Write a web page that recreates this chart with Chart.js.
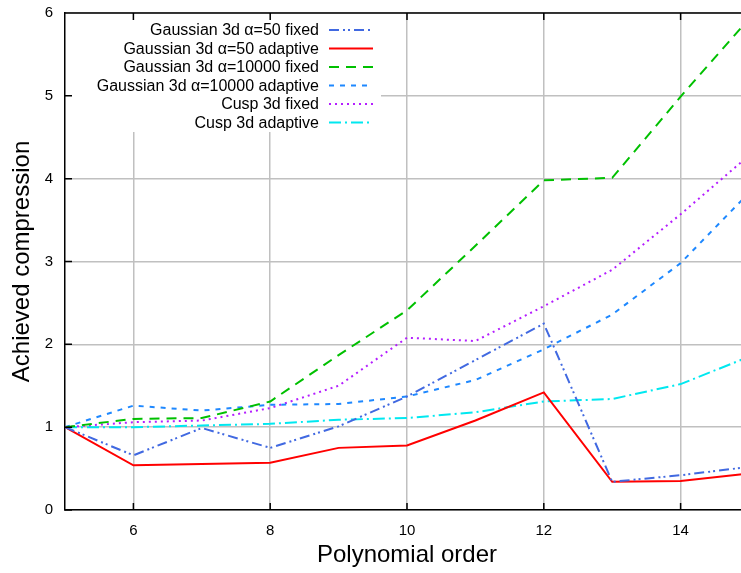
<!DOCTYPE html>
<html>
<head>
<meta charset="utf-8">
<script src="https://cdn.jsdelivr.net/npm/chart.js@4/dist/chart.umd.min.js"></script>
<style>
  html, body { margin: 0; padding: 0; overflow: hidden; background: #fff; }
  #wrap { width: 760px; height: 573px; }
</style>
</head>
<body>
<div id="wrap"><canvas id="chart"></canvas></div>
<script>
// polynomial order on the x axis
const orders = [5, 6, 7, 8, 9, 10, 11, 12, 13, 14, 15];

// achieved compression
const gauss50Fixed = [1.00, 0.66, 0.99, 0.75, 1.01, 1.37, 1.81, 2.25, 0.34, 0.42, 0.52];
const gauss50Adaptive = [1.00, 0.54, 0.555, 0.57, 0.75, 0.78, 1.08, 1.42, 0.34, 0.35, 0.44];
const gauss10000Fixed = [1.00, 1.10, 1.11, 1.31, 1.87, 2.41, 3.19, 3.98, 4.01, 4.99, 5.93];
const gauss10000Adaptive = [1.00, 1.26, 1.20, 1.27, 1.28, 1.37, 1.57, 1.94, 2.36, 2.98, 3.83];
const cuspFixed = [1.00, 1.06, 1.08, 1.23, 1.50, 2.08, 2.04, 2.46, 2.90, 3.57, 4.28];
const cuspAdaptive = [1.00, 1.00, 1.02, 1.04, 1.09, 1.11, 1.18, 1.31, 1.34, 1.52, 1.85];

const seriesLabels = [
    'Gaussian 3d \u03b1=50 fixed',
    'Gaussian 3d \u03b1=50 adaptive',
    'Gaussian 3d \u03b1=10000 fixed',
    'Gaussian 3d \u03b1=10000 adaptive',
    'Cusp 3d fixed',
    'Cusp 3d adaptive'
];

const xTicks = [6, 8, 10, 12, 14];
const yTicks = [0, 1, 2, 3, 4, 5, 6];

const FONT = "'Liberation Sans', Arial, sans-serif";

function toPoints(values) {
    return values.map((v, i) => ({ x: orders[i], y: v }));
}

function makeSet(label, values, color, dash) {
    return {
        label: label,
        data: toPoints(values),
        borderColor: color,
        backgroundColor: color,
        borderDash: dash,
        borderWidth: 2,
        pointRadius: 0,
        tension: 0,
        fill: false
    };
}

// key box: white patch over the grid, then text + samples on top
const keyBox = { left: 66, top: 14, right: 381, bottom: 132 };

const keyPlugin = {
    id: 'key',
    beforeDatasetsDraw(chart) {
        const ctx = chart.ctx;
        ctx.save();
        ctx.fillStyle = '#fff';
        ctx.fillRect(keyBox.left, keyBox.top, keyBox.right - keyBox.left, keyBox.bottom - keyBox.top);
        ctx.restore();
    },
    afterDatasetsDraw(chart) {
        const ctx = chart.ctx;
        const textRight = 319;
        const lineLeft = 329, lineRight = 373;
        const top = 30, step = 18.5;
        ctx.save();
        ctx.font = '16px ' + FONT;
        ctx.textAlign = 'right';
        ctx.textBaseline = 'middle';
        chart.data.datasets.forEach((ds, i) => {
            const y = top + i * step;
            ctx.fillStyle = '#000';
            ctx.fillText(ds.label, textRight, y + 1);
            ctx.strokeStyle = ds.borderColor;
            ctx.lineWidth = ds.borderWidth;
            ctx.setLineDash(ds.borderDash);
            ctx.beginPath();
            ctx.moveTo(lineLeft, y);
            ctx.lineTo(lineRight, y);
            ctx.stroke();
        });
        ctx.restore();
    }
};

// gnuplot style: black frame on top + inward tick marks
const framePlugin = {
    id: 'frame',
    afterDatasetsDraw(chart) {
        const ctx = chart.ctx;
        const area = chart.chartArea;
        const xs = chart.scales.x;
        const ys = chart.scales.y;
        ctx.save();
        ctx.strokeStyle = '#000';
        ctx.lineWidth = 1.5;
        ctx.beginPath();
        ctx.moveTo(area.left, area.top);
        ctx.lineTo(area.right, area.top);
        xTicks.forEach(v => {
            const px = xs.getPixelForValue(v);
            ctx.moveTo(px, area.bottom);
            ctx.lineTo(px, area.bottom - 7);
            ctx.moveTo(px, area.top);
            ctx.lineTo(px, area.top + 7);
        });
        yTicks.forEach(v => {
            const py = ys.getPixelForValue(v);
            ctx.moveTo(area.left, py);
            ctx.lineTo(area.left + 7, py);
        });
        ctx.stroke();
        ctx.restore();
    }
};

const datasets = [
    makeSet(seriesLabels[0], gauss50Fixed, '#4169e1', [10, 4, 2, 3, 2, 4]),
    makeSet(seriesLabels[1], gauss50Adaptive, '#ff0000', []),
    makeSet(seriesLabels[2], gauss10000Fixed, '#00c000', [10, 7]),
    makeSet(seriesLabels[3], gauss10000Adaptive, '#1e88ff', [5, 6]),
    makeSet(seriesLabels[4], cuspFixed, '#b41eff', [2, 4]),
    makeSet(seriesLabels[5], cuspAdaptive, '#00e8f0', [12, 4, 2, 4])
];

new Chart(document.getElementById('chart'), {
    type: 'line',
    data: { datasets: datasets },
    options: {
        responsive: true,
        maintainAspectRatio: false,
        animation: false,
        layout: { padding: { top: 13, right: 11, left: 0, bottom: 0 } },
        plugins: {
            legend: { display: false },
            tooltip: { enabled: false }
        },
        scales: {
            x: {
                type: 'linear',
                min: 5,
                max: 15,
                afterFit(scale) {
                    scale.height = 63;
                    scale.paddingLeft = 0;
                    scale.paddingRight = 0;
                },
                afterBuildTicks(scale) { scale.ticks = xTicks.map(v => ({ value: v })); },
                ticks: {
                    color: '#000',
                    padding: 12,
                    font: { family: FONT, size: 15 },
                    maxRotation: 0
                },
                grid: { color: '#c0c0c0', lineWidth: 1.5, drawTicks: false },
                border: { color: '#000', width: 1.5 },
                title: {
                    display: true,
                    text: 'Polynomial order',
                    color: '#000',
                    font: { family: FONT, size: 24 },
                    padding: { top: 0, bottom: 3 }
                }
            },
            y: {
                min: 0,
                max: 6,
                afterFit(scale) {
                    scale.width = 65;
                    scale.paddingTop = 0;
                    scale.paddingBottom = 0;
                },
                afterBuildTicks(scale) { scale.ticks = yTicks.map(v => ({ value: v })); },
                ticks: {
                    color: '#000',
                    padding: 12,
                    font: { family: FONT, size: 15 }
                },
                grid: { color: '#c0c0c0', lineWidth: 1.5, drawTicks: false },
                border: { color: '#000', width: 1.5 },
                title: {
                    display: true,
                    text: 'Achieved compression',
                    color: '#000',
                    font: { family: FONT, size: 24 },
                    padding: { top: 8, bottom: 0 }
                }
            }
        }
    },
    plugins: [keyPlugin, framePlugin]
});
</script>
</body>
</html>
